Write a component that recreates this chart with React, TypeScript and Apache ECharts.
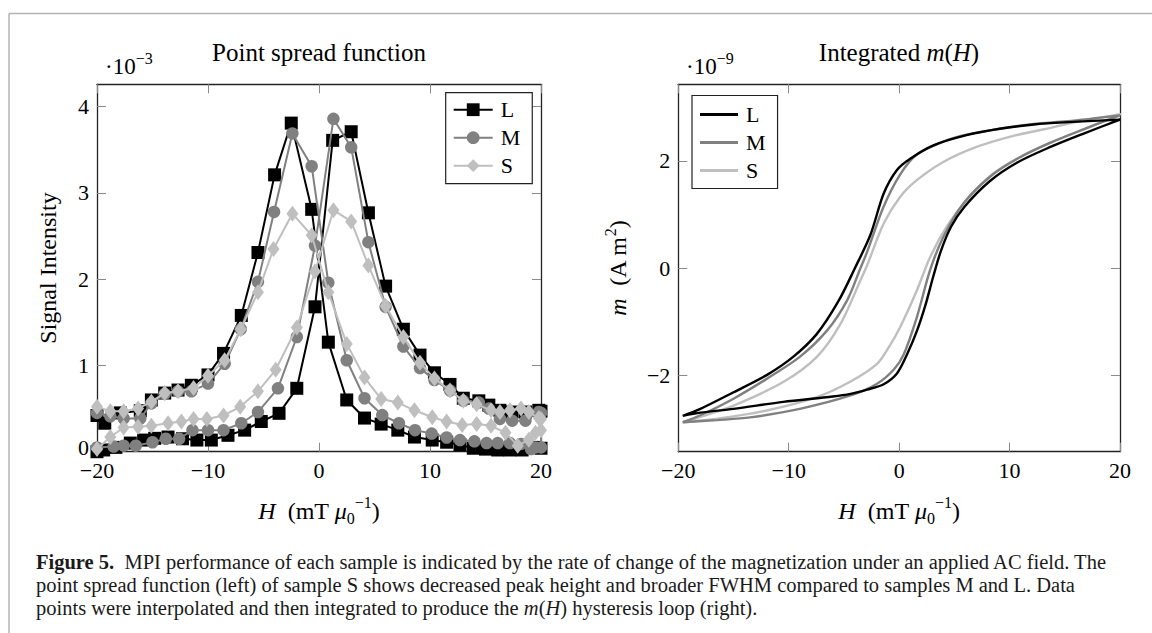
import React, { useEffect, useRef } from 'react';
import * as echarts from 'echarts';

const SERIF = '"Liberation Serif", "Times New Roman", serif';

// ---------- Left panel: point spread function (signal ×10^-3 vs H) ----------
// rising-field branch (peak at positive H), from -20 to 20
const psfL_up = [[-20, 0.0], [-19.4, 0.02], [-18.3, 0.05], [-17.0, 0.1], [-15.8, 0.135], [-14.8, 0.155], [-13.6, 0.17], [-12.3, 0.15], [-11.0, 0.135], [-9.7, 0.135], [-8.2, 0.19], [-6.7, 0.25], [-5.2, 0.35], [-3.6, 0.445], [-2.0, 0.735], [-0.36, 1.68], [1.23, 3.61], [2.9, 3.71], [4.45, 2.77], [6.0, 1.92], [7.6, 1.42], [9.1, 1.12], [10.4, 0.915], [11.8, 0.78], [13.0, 0.62], [14.4, 0.59], [15.3, 0.54], [16.3, 0.48], [17.4, 0.46], [18.6, 0.46], [19.8, 0.48], [20, 0.47]];
// falling-field branch (peak at negative H), from 20 to -20
const psfL_down = [[20, 0.04], [19.5, 0.05], [18.3, 0.02], [17.2, 0.02], [16.1, 0.02], [15.0, 0.03], [13.9, 0.04], [12.7, 0.08], [11.5, 0.11], [10.2, 0.135], [8.6, 0.17], [7.1, 0.25], [5.6, 0.32], [4.1, 0.39], [2.5, 0.6], [0.84, 1.27], [-0.66, 2.81], [-2.5, 3.81], [-4.0, 3.21], [-5.5, 2.31], [-7.0, 1.58], [-8.6, 1.14], [-10.0, 0.89], [-11.5, 0.77], [-12.7, 0.715], [-13.9, 0.68], [-15.1, 0.6], [-16.1, 0.475], [-17.9, 0.45], [-19.3, 0.33], [-20, 0.42]];

const psfM_up = [[-20, 0.05], [-18.5, 0.06], [-17.6, 0.07], [-16.5, 0.07], [-15.0, 0.11], [-13.8, 0.15], [-12.6, 0.15], [-11.4, 0.25], [-10.0, 0.25], [-8.6, 0.25], [-7.0, 0.33], [-5.5, 0.46], [-3.7, 0.735], [-2.0, 1.33], [-0.36, 2.39], [1.3, 3.86], [2.9, 3.53], [4.45, 2.43], [6.0, 1.68], [7.6, 1.22], [9.1, 0.97], [10.4, 0.83], [11.8, 0.71], [13.0, 0.59], [14.4, 0.57], [15.3, 0.5], [16.3, 0.38], [17.4, 0.36], [18.6, 0.36], [19.8, 0.46], [20, 0.45]];
const psfM_down = [[20, 0.05], [19.5, 0.05], [19.1, 0.03], [18.2, 0.09], [17.2, 0.1], [16.1, 0.1], [15.1, 0.1], [14.0, 0.12], [12.7, 0.135], [11.5, 0.165], [10.15, 0.21], [8.65, 0.25], [7.2, 0.33], [5.7, 0.425], [4.1, 0.62], [2.5, 1.06], [0.84, 1.96], [-0.66, 3.31], [-2.4, 3.69], [-4.05, 2.78], [-5.5, 1.97], [-7.05, 1.42], [-8.5, 1.02], [-10.0, 0.79], [-11.5, 0.7], [-12.7, 0.7], [-13.9, 0.67], [-15.1, 0.56], [-16.1, 0.385], [-17.6, 0.385], [-18.8, 0.41], [-20, 0.45]];

const psfS_up = [[-20, 0.03], [-18.8, 0.17], [-17.6, 0.28], [-16.3, 0.29], [-15.1, 0.3], [-13.6, 0.33], [-12.4, 0.35], [-11.3, 0.38], [-10.1, 0.38], [-8.6, 0.42], [-7.1, 0.52], [-5.5, 0.7], [-3.9, 0.95], [-2.0, 1.44], [-0.36, 2.09], [1.3, 2.8], [2.9, 2.67], [4.45, 2.16], [6.0, 1.69], [7.6, 1.33], [9.1, 1.03], [10.4, 0.85], [11.8, 0.71], [13.0, 0.59], [14.2, 0.55], [15.5, 0.48], [16.3, 0.46], [17.2, 0.48], [18.2, 0.5], [18.9, 0.46], [19.8, 0.39], [20, 0.38]];
const psfS_down = [[20, 0.25], [19.5, 0.22], [18.9, 0.14], [17.9, 0.07], [16.8, 0.22], [15.5, 0.3], [14.2, 0.32], [12.9, 0.31], [11.5, 0.35], [10.2, 0.4], [8.6, 0.48], [7.1, 0.57], [5.6, 0.61], [4.1, 0.86], [2.5, 1.25], [0.84, 1.85], [-0.66, 2.51], [-2.4, 2.76], [-4.1, 2.35], [-5.5, 1.85], [-7.05, 1.42], [-8.5, 1.06], [-10.0, 0.88], [-11.3, 0.74], [-12.7, 0.7], [-13.9, 0.68], [-15.1, 0.58], [-16.3, 0.5], [-17.6, 0.47], [-18.8, 0.47], [-20, 0.52]];

// ---------- Right panel: integrated m(H) (×10^-9 A m^2) ----------
const mhL_lower = [[-19.6, -2.76], [-18, -2.7], [-15, -2.63], [-10.5, -2.5], [-6, -2.4], [-4.4, -2.35], [-2.9, -2.27], [-1.4, -2.17], [-0.2, -1.97], [0.7, -1.62], [1.6, -1.18], [2.4, -0.68], [3.1, -0.15], [3.8, 0.33], [4.7, 0.77], [5.9, 1.14], [8.2, 1.62], [10.7, 1.97], [13.7, 2.26], [16.7, 2.51], [20, 2.77]];
const mhL_upper = [[20, 2.77], [14.9, 2.72], [12.2, 2.68], [9.1, 2.6], [6.1, 2.48], [3.1, 2.29], [1.0, 2.04], [-0.2, 1.83], [-1.4, 1.39], [-2.6, 0.62], [-4.0, 0.0], [-5.5, -0.62], [-7.45, -1.23], [-9.6, -1.66], [-12, -2.0], [-15, -2.32], [-18, -2.63], [-19.6, -2.76]];

const mhM_lower = [[-19.6, -2.88], [-16.5, -2.84], [-13.5, -2.79], [-9, -2.63], [-4.4, -2.38], [-2, -2.16], [-0.5, -1.9], [0.4, -1.62], [1.6, -0.92], [2.8, -0.04], [4.0, 0.58], [5.8, 1.2], [8.2, 1.7], [10.7, 2.04], [13.7, 2.34], [16.7, 2.59], [20, 2.85]];
const mhM_upper = [[20, 2.85], [15.2, 2.74], [12.2, 2.69], [9.1, 2.6], [6.1, 2.49], [4.0, 2.36], [1.6, 2.12], [0.1, 1.75], [-1.4, 1.15], [-2.9, 0.3], [-3.5, 0.0], [-4.7, -0.6], [-6.5, -1.16], [-9.0, -1.66], [-12, -2.07], [-15, -2.44], [-18, -2.75], [-19.6, -2.88]];

const mhS_lower = [[-19.6, -2.88], [-16, -2.8], [-12, -2.66], [-7.45, -2.41], [-4.4, -2.12], [-2, -1.79], [-1.0, -1.5], [0.1, -1.1], [1.6, -0.42], [2.8, 0.2], [4.3, 0.77], [6.1, 1.27], [8.5, 1.76], [11.2, 2.1], [14.3, 2.39], [17.3, 2.64], [20, 2.87]];
const mhS_upper = [[20, 2.87], [16.1, 2.73], [13.1, 2.59], [10, 2.45], [7, 2.26], [4, 1.98], [1.6, 1.64], [0.1, 1.33], [-1.4, 0.83], [-2.9, 0.05], [-3.5, -0.23], [-5.3, -1.04], [-7.45, -1.66], [-10.5, -2.13], [-15, -2.57], [-18, -2.78], [-19.6, -2.88]];

const sampleNames = ['L', 'M', 'S'];
const sampleColors = ['#000000', '#808080', '#bfbfbf'];
const psfSymbols = ['rect', 'circle', 'diamond'];
const xTicks = [-20, -10, 0, 10, 20];
const psfYTicks = [0, 1, 2, 3, 4];
const mhYTicks = [-2, 0, 2];

const captionLines = [
  '{b|Figure 5.}  MPI performance of each sample is indicated by the rate of change of the magnetization under an applied AC field. The',
  'point spread function (left) of sample S shows decreased peak height and broader FWHM compared to samples M and L. Data',
  'points were interpolated and then integrated to produce the {i|m}({i|H}) hysteresis loop (right).',
];

const fmt = (v: number) => (v < 0 ? '\u2212' + Math.abs(v) : String(v));

const richMath = {
  i: { fontStyle: 'italic', fontFamily: SERIF, fontSize: 24, lineHeight: 32, color: '#000' },
  r: { fontFamily: SERIF, fontSize: 24, lineHeight: 32, color: '#000' },
  sup: { fontFamily: SERIF, fontSize: 16, lineHeight: 20, verticalAlign: 'top', color: '#000' },
  sub: { fontFamily: SERIF, fontSize: 16, lineHeight: 22, verticalAlign: 'bottom', color: '#000' },
};

function axisPair(gridIndex: number, ticks: number[], min: number, max: number, dim: 'x' | 'y', name: string, nameGap: number) {
  const base = {
    gridIndex,
    type: 'value',
    min,
    max,
    splitLine: { show: false },
    axisLine: { show: true, onZero: false, lineStyle: { color: '#222', width: 1.3 } },
    axisTick: { show: true, inside: true, length: 9, customValues: ticks, lineStyle: { color: '#8a8a8a', width: 1 } },
  };
  const main = {
    ...base,
    position: dim === 'x' ? 'bottom' : 'left',
    axisLabel: {
      show: true, customValues: ticks, formatter: fmt, margin: dim === 'x' ? 10 : 8,
      color: '#000', fontFamily: SERIF, fontSize: 22, lineHeight: dim === 'x' ? 18 : 16,
    },
    name,
    nameLocation: 'middle',
    nameGap,
    nameTextStyle: { fontFamily: SERIF, fontSize: 24, lineHeight: 32, color: '#000', rich: richMath },
  };
  const mirror = {
    ...base,
    position: dim === 'x' ? 'top' : 'right',
    axisLabel: { show: false },
  };
  return [main, mirror];
}

export default function App() {
  const ref = useRef<HTMLDivElement>(null);
  useEffect(() => {
    if (!ref.current) return;
    const chart = echarts.init(ref.current, undefined, { renderer: 'svg' });

    const psfData = [
      [...psfL_up, ...psfL_down],
      [...psfM_up, ...psfM_down],
      [...psfS_up, ...psfS_down],
    ];
    const mhData = [
      [...mhL_lower, ...mhL_upper],
      [...mhM_lower, ...mhM_upper],
      [...mhS_lower, ...mhS_upper],
    ];

    const xName = '{i|H}{r|  (mT }{i|μ}{sub|0}{sup|\u22121}{r|)}';

    const series: any[] = [];
    sampleNames.forEach((n, k) => {
      series.push({
        type: 'line',
        name: n + '-psf',
        xAxisIndex: 0,
        yAxisIndex: 0,
        data: psfData[k],
        symbol: psfSymbols[k],
        symbolSize: k === 2 ? [12, 16] : k === 0 ? 13 : 12.5,
        showAllSymbol: true,
        clip: false,
        lineStyle: { color: sampleColors[k], width: 2 },
        itemStyle: { color: sampleColors[k] },
        emphasis: { disabled: true },
        z: 2 + k,
      });
    });
    sampleNames.forEach((n, k) => {
      series.push({
        type: 'line',
        name: n + '-mh',
        xAxisIndex: 2,
        yAxisIndex: 2,
        data: mhData[k],
        symbol: 'none',
        smooth: 0.3,
        lineStyle: { color: sampleColors[k], width: 2.4 },
        itemStyle: { color: sampleColors[k] },
        emphasis: { disabled: true },
        z: 5 - k,
      });
    });

    const legendCommon = {
      orient: 'vertical',
      selectedMode: false,
      borderColor: '#222',
      borderWidth: 1.2,
      borderRadius: 0,
      itemGap: 4,
      formatter: (name: string) => name.split('-')[0],
      textStyle: { fontFamily: SERIF, fontSize: 22, lineHeight: 24, color: '#000', padding: [0, 0, 0, 3] },
    };

    const [x0, x0t] = axisPair(0, xTicks, -20, 20, 'x', xName, 43);
    const [y0, y0r] = axisPair(0, psfYTicks, 0, 4.26, 'y', 'Signal Intensity', 33);
    const [x1, x1t] = axisPair(1, xTicks, -20, 20, 'x', xName, 43);
    const [y1, y1r] = axisPair(1, mhYTicks, -3.43, 3.43, 'y', '{i|m}{r|  (A m}{sup|2}{r|)}', 44);

    // the "0" label of the left y axis sits just above the "−20" of the x axis
    (y0 as any).axisLabel = {
      ...(y0 as any).axisLabel,
      formatter: (v: number) => (v === 0 ? '{z|0}' : fmt(v)),
      rich: { z: { fontFamily: SERIF, fontSize: 22, lineHeight: 16, padding: [0, 0, 8, 0], color: '#000' } },
    };

    chart.setOption({
      animation: false,
      backgroundColor: '#ffffff',
      grid: [
        { left: 97, top: 84.3, width: 444, height: 367.4, containLabel: false },
        { left: 678.3, top: 84.3, width: 441.7, height: 367.4, containLabel: false },
      ],
      xAxis: [x0, x0t, x1, x1t],
      yAxis: [y0, y0r, y1, y1r],
      legend: [
        {
          ...legendCommon,
          data: ['L-psf', 'M-psf', 'S-psf'],
          left: 445.7,
          top: 92.7,
          padding: [5, 12, 6, 7],
          itemWidth: 39,
          itemHeight: 16,
        },
        {
          ...legendCommon,
          data: ['L-mh', 'M-mh', 'S-mh'],
          left: 692,
          top: 95.5,
          padding: [7, 12, 6, 8],
          itemWidth: 38,
          itemHeight: 3,
          icon: 'rect',
        },
      ],
      series,
      graphic: [
        { type: 'line', shape: { x1: 9, y1: 13.5, x2: 1152, y2: 13.5 }, style: { stroke: '#b4b4b4', lineWidth: 1.5 }, silent: true },
        { type: 'line', shape: { x1: 9, y1: 13.5, x2: 9, y2: 633 }, style: { stroke: '#b4b4b4', lineWidth: 1.5 }, silent: true },
        {
          type: 'text', x: 319, y: 52, silent: true,
          style: { text: 'Point spread function', align: 'center', verticalAlign: 'middle', fontFamily: SERIF, fontSize: 25, fill: '#000' },
        },
        {
          type: 'text', x: 899, y: 52, silent: true,
          style: {
            text: '{r|Integrated }{i|m}{r|(}{i|H}{r|)}', align: 'center', verticalAlign: 'middle',
            rich: { r: { ...richMath.r, fontSize: 25 }, i: { ...richMath.i, fontSize: 25 } },
          },
        },
        {
          type: 'text', x: 105, y: 66, silent: true,
          style: { text: '{r|\u00b710}{sup|\u22123}', align: 'left', verticalAlign: 'middle', rich: { ...richMath, r: { ...richMath.r, fontSize: 23 } } },
        },
        {
          type: 'text', x: 686, y: 66, silent: true,
          style: { text: '{r|\u00b710}{sup|\u22129}', align: 'left', verticalAlign: 'middle', rich: { ...richMath, r: { ...richMath.r, fontSize: 23 } } },
        },
        {
          type: 'text', x: 36, y: 585, silent: true,
          style: {
            text: captionLines.join('\n'), align: 'left', verticalAlign: 'middle',
            fontFamily: SERIF, fontSize: 20.5, lineHeight: 23.3, fill: '#1a1a1a',
            rich: {
              b: { fontFamily: SERIF, fontSize: 20.5, fontWeight: 'bold', lineHeight: 23.3, fill: '#1a1a1a' },
              i: { fontFamily: SERIF, fontSize: 20.5, fontStyle: 'italic', lineHeight: 23.3, fill: '#1a1a1a' },
            },
          },
        },
      ],
    });
    return () => chart.dispose();
  }, []);
  return (
    <div
      ref={ref}
      style={{ position: 'fixed', left: 0, top: 0, width: 1152, height: 633, background: '#fff' }}
    />
  );
}
